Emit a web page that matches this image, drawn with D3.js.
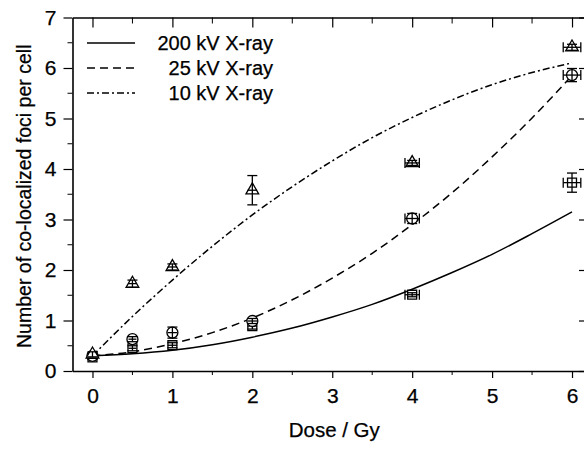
<!DOCTYPE html>
<html>
<head>
<meta charset="utf-8">
<script src="https://cdn.jsdelivr.net/npm/d3@7"></script>
<style>
  body { margin: 0; background: #fff; }
  svg { display: block; font-family: "Liberation Sans", Arial, sans-serif; }
  text { stroke: #000; stroke-width: 0.25; }
</style>
</head>
<body>
<svg id="chart"></svg>
<script>
// Data
const doses = [0, 0.5, 1, 2, 4, 6];
const doseErr = [0, 0.05, 0.06, 0.06, 0.09, 0.11];

const kv10 = [0.33, 1.73, 2.06, 3.58, 4.12, 6.41];
const kv10Err = [0.05, 0.07, 0.06, 0.29, 0.05, 0.06];
const kv25 = [0.30, 0.63, 0.76, 0.99, 3.02, 5.86];
const kv25Err = [0.05, 0.05, 0.11, 0.05, 0.10, 0.13];
const kv200 = [0.27, 0.45, 0.51, 0.89, 1.51, 3.73];
const kv200Err = [0.04, 0.05, 0.05, 0.06, 0.04, 0.19];

// fitted curves, every 0.5 Gy
const fitDose = [0, 0.5, 1, 1.5, 2, 2.5, 3, 3.5, 4, 4.5, 5, 5.5, 6];
const fit200 = [0.30, 0.34, 0.41, 0.52, 0.67, 0.85, 1.07, 1.32, 1.62, 1.95, 2.31, 2.72, 3.15];
const fit25 = [0.30, 0.38, 0.54, 0.76, 1.05, 1.41, 1.84, 2.33, 2.90, 3.53, 4.24, 5.01, 5.85];
const fit10 = [0.30, 1.08, 1.80, 2.47, 3.09, 3.65, 4.16, 4.62, 5.02, 5.37, 5.67, 5.91, 6.10];

const xTicks = [0, 1, 2, 3, 4, 5, 6];
const yTicks = [0, 1, 2, 3, 4, 5, 6, 7];

const legendLabels = ['200 kV X-ray', '25 kV X-ray', '10 kV X-ray'];

const width = 584;
const height = 450;
const margin = { top: 17.5, right: -4, bottom: 79, left: 72.5 };

const svg = d3.select('#chart')
  .attr('width', width)
  .attr('height', height);

const x = d3.scaleLinear()
  .domain([-0.25, 6.2])
  .range([margin.left, width - margin.right]);

const y = d3.scaleLinear()
  .domain([0, 7])
  .range([height - margin.bottom, margin.top]);

const minorX = [0.5, 1.5, 2.5, 3.5, 4.5, 5.5];
const minorY = [0.5, 1.5, 2.5, 3.5, 4.5, 5.5, 6.5];

// Axes
const bottomAxis = svg.append('g')
  .attr('transform', `translate(0,${y(0)})`)
  .call(d3.axisBottom(x).tickValues(xTicks).tickFormat(d3.format('d')).tickSize(7).tickPadding(10).tickSizeOuter(0));
bottomAxis.append('g').selectAll('line')
  .data(minorX).enter().append('line')
    .attr('x1', d => x(d)).attr('x2', d => x(d))
    .attr('y1', 0).attr('y2', 4)
    .attr('stroke', '#000');

const topAxis = svg.append('g')
  .attr('transform', `translate(0,${y(7)})`)
  .call(d3.axisBottom(x).tickValues(xTicks).tickFormat('').tickSize(10).tickSizeOuter(0));
topAxis.append('g').selectAll('line')
  .data(minorX).enter().append('line')
    .attr('x1', d => x(d)).attr('x2', d => x(d))
    .attr('y1', 0).attr('y2', 6)
    .attr('stroke', '#000');

const leftAxis = svg.append('g')
  .attr('transform', `translate(${x.range()[0]},0)`)
  .call(d3.axisLeft(y).tickValues(yTicks).tickFormat(d3.format('d')).tickSize(9).tickPadding(7).tickSizeOuter(0));
leftAxis.append('g').selectAll('line')
  .data(minorY).enter().append('line')
    .attr('y1', d => y(d)).attr('y2', d => y(d))
    .attr('x1', 0).attr('x2', -5)
    .attr('stroke', '#000');

const rightAxis = svg.append('g')
  .attr('transform', `translate(${x.range()[1]},0)`)
  .call(d3.axisLeft(y).tickValues(yTicks).tickFormat('').tickSize(0).tickSizeOuter(0));
rightAxis.selectAll('.tick line').attr('x2', -9);

svg.selectAll('.domain').attr('stroke-width', 1.6);
svg.selectAll('.tick line').attr('stroke-width', 1.2);
svg.selectAll('.tick text')
  .attr('font-size', 21)
  .attr('fill', '#000');

// Axis titles
svg.append('text')
  .attr('x', (x(-0.25) + x(6.2)) / 2 + 4)
  .attr('y', 437)
  .attr('text-anchor', 'middle')
  .attr('font-size', 20.5)
  .text('Dose / Gy');

svg.append('text')
  .attr('transform', `translate(31,${y(3.5) + 2}) rotate(-90)`)
  .attr('text-anchor', 'middle')
  .attr('font-size', 19.5)
  .text('Number of co-localized foci per cell');

// Fit curves
const line = d3.line()
  .x(d => x(d[0]))
  .y(d => y(d[1]))
  .curve(d3.curveMonotoneX);

const styles = [
  { fit: fit200, dash: null },
  { fit: fit25, dash: '8,5' },
  { fit: fit10, dash: '7,3,2,3' }
];

styles.forEach(s => {
  svg.append('path')
    .datum(fitDose.map((d, i) => [d, s.fit[i]]))
    .attr('d', line)
    .attr('fill', 'none')
    .attr('stroke', '#000')
    .attr('stroke-width', 1.5)
    .attr('stroke-dasharray', s.dash);
});

// Data points with error bars
const series = [
  { vals: kv200, err: kv200Err, shape: d3.symbolSquare, size: 80 },
  { vals: kv25, err: kv25Err, shape: d3.symbolCircle, size: 95 },
  { vals: kv10, err: kv10Err, shape: d3.symbolTriangle, size: 70 }
];

series.forEach(s => {
  const pts = doses.map((d, i) => ({ d, v: s.vals[i], e: s.err[i], xe: doseErr[i] }));
  const g = svg.append('g');

  g.selectAll('path.mark')
    .data(pts).enter().append('path')
      .attr('class', 'mark')
      .attr('transform', p => `translate(${x(p.d)},${y(p.v)})`)
      .attr('d', d3.symbol().type(s.shape).size(s.size))
      .attr('fill', '#fff')
      .attr('stroke', '#000')
      .attr('stroke-width', 1.3);

  const eb = g.selectAll('g.err')
    .data(pts).enter().append('g')
      .attr('class', 'err')
      .attr('stroke', '#000')
      .attr('stroke-width', 1.3);

  eb.append('line')
    .attr('x1', p => x(p.d)).attr('x2', p => x(p.d))
    .attr('y1', p => y(p.v - p.e)).attr('y2', p => y(p.v + p.e));
  eb.append('line')
    .attr('x1', p => x(p.d) - 5).attr('x2', p => x(p.d) + 5)
    .attr('y1', p => y(p.v + p.e)).attr('y2', p => y(p.v + p.e));
  eb.append('line')
    .attr('x1', p => x(p.d) - 5).attr('x2', p => x(p.d) + 5)
    .attr('y1', p => y(p.v - p.e)).attr('y2', p => y(p.v - p.e));

  eb.filter(p => p.xe > 0).append('line')
    .attr('x1', p => x(p.d - p.xe)).attr('x2', p => x(p.d + p.xe))
    .attr('y1', p => y(p.v)).attr('y2', p => y(p.v));
  eb.filter(p => p.xe > 0.08).append('line')
    .attr('x1', p => x(p.d - p.xe)).attr('x2', p => x(p.d - p.xe))
    .attr('y1', p => y(p.v) - 5).attr('y2', p => y(p.v) + 5);
  eb.filter(p => p.xe > 0.08).append('line')
    .attr('x1', p => x(p.d + p.xe)).attr('x2', p => x(p.d + p.xe))
    .attr('y1', p => y(p.v) - 5).attr('y2', p => y(p.v) + 5);
});

// Legend
const legend = svg.append('g');
const legendRows = legend.selectAll('g')
  .data(legendLabels).enter().append('g')
    .attr('transform', (d, i) => `translate(0,${43 + i * 25})`);

legendRows.append('line')
  .attr('x1', 87).attr('x2', 135)
  .attr('y1', 0).attr('y2', 0)
  .attr('stroke', '#000')
  .attr('stroke-width', 1.5)
  .attr('stroke-dasharray', (d, i) => styles[i].dash);

legendRows.append('text')
  .attr('x', 273)
  .attr('y', 7)
  .attr('text-anchor', 'end')
  .attr('font-size', 20)
  .text(d => d);
</script>
</body>
</html>
